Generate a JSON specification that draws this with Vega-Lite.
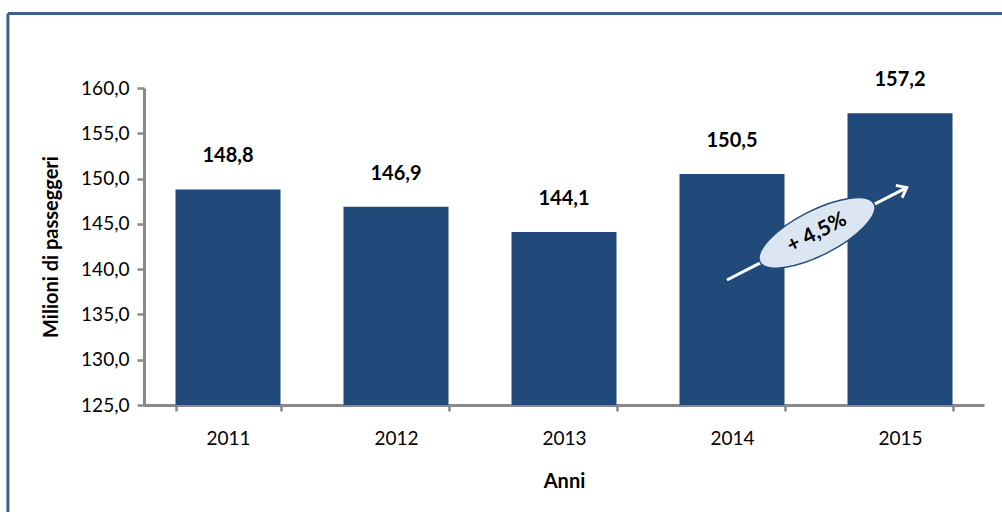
{
  "$schema": "https://vega.github.io/schema/vega-lite/v6.json",
  "width": 840,
  "height": 317,
  "autosize": {"type": "none"},
  "padding": {"left": 144, "top": 88, "right": 18, "bottom": 107},
  "background": "white",
  "config": {
    "view": {"stroke": null},
    "font": "Lato",
    "locale": {"number": {"decimal": ",", "thousands": ".", "grouping": [3], "currency": ["€", ""]}}
  },
  "data": {"values": [
    {"anno": "2011", "passeggeri": 148.8},
    {"anno": "2012", "passeggeri": 146.9},
    {"anno": "2013", "passeggeri": 144.1},
    {"anno": "2014", "passeggeri": 150.5},
    {"anno": "2015", "passeggeri": 157.2}
  ]},
  "resolve": {"scale": {"x": "independent"}},
  "layer": [
    {
      "encoding": {
        "x": {
          "field": "anno", "type": "ordinal",
          "scale": {"paddingInner": 0.375, "paddingOuter": 0.1875},
          "axis": {
            "title": "Anni", "titleFont": "Lato", "titleFontSize": 20, "titleFontWeight": "bold", "titleColor": "#000000", "titlePadding": 23,
            "labelAngle": 0, "labelFont": "Lato", "labelFontSize": 19, "labelColor": "#000000", "labelPadding": 18,
            "tickBand": "extent", "tickSize": 6, "tickWidth": 2.5, "tickColor": "#898989",
            "domainColor": "#898989", "domainWidth": 3, "grid": false
          }
        },
        "y": {
          "field": "passeggeri", "type": "quantitative",
          "scale": {"domain": [125, 160], "nice": false, "zero": false},
          "axis": {
            "title": "Milioni di passeggeri", "titleFont": "Lato", "titleFontSize": 20, "titleFontWeight": "bold", "titleColor": "#000000", "titlePadding": 19,
            "values": [125, 130, 135, 140, 145, 150, 155, 160],
            "labelExpr": "replace(format(datum.value, '.1f'), '.', ',')",
            "labelFont": "Lato", "labelFontSize": 19, "labelColor": "#000000", "labelPadding": 8,
            "tickSize": 7, "tickWidth": 2.5, "tickColor": "#898989",
            "domainColor": "#898989", "domainWidth": 3, "grid": false
          }
        }
      },
      "layer": [
        {
          "mark": {"type": "bar", "color": "#214A7B"},
          "encoding": {"y2": {"datum": 125}}
        },
        {
          "mark": {"type": "text", "baseline": "alphabetic", "dy": -27, "font": "Lato", "fontSize": 20, "fontWeight": "bold", "color": "#000000"},
          "encoding": {"text": {"field": "passeggeri", "type": "quantitative", "format": ".1f"}}
        }
      ]
    },
    {
      "data": {"values": [{}]},
      "layer": [
        {
          "mark": {"type": "rule", "color": "#3B5E8C", "strokeWidth": 3, "clip": false},
          "encoding": {
            "x": {"datum": 2009.69, "type": "quantitative", "scale": {"domain": [2010.5, 2015.5], "nice": false, "zero": false}, "axis": null},
            "y": {"datum": 168.23, "type": "quantitative"},
            "y2": {"datum": 110}
          }
        },
        {
          "mark": {"type": "rule", "color": "#3B5E8C", "strokeWidth": 3, "clip": false},
          "encoding": {
            "x": {"datum": 2009.69, "type": "quantitative", "scale": {"domain": [2010.5, 2015.5], "nice": false, "zero": false}, "axis": null},
            "x2": {"datum": 2016.0},
            "y": {"datum": 168.23, "type": "quantitative"}
          }
        },
        {
          "mark": {"type": "rule", "color": "#FFFFFF", "strokeWidth": 3},
          "encoding": {
            "x": {"datum": 2013.97, "type": "quantitative", "scale": {"domain": [2010.5, 2015.5], "nice": false, "zero": false}, "axis": null},
            "x2": {"datum": 2015.04},
            "y": {"datum": 138.8, "type": "quantitative"},
            "y2": {"datum": 149.0}
          }
        },
        {
          "mark": {"type": "point", "shape": "M-1,-0.8L0,0L-1,0.8", "filled": false, "stroke": "#FFFFFF", "strokeWidth": 3, "size": 300, "angle": -27, "opacity": 1},
          "encoding": {
            "x": {"datum": 2015.04, "type": "quantitative", "scale": {"domain": [2010.5, 2015.5], "nice": false, "zero": false}, "axis": null},
            "y": {"datum": 149.0, "type": "quantitative"}
          }
        },
        {
          "mark": {"type": "point", "shape": "M-1,0A1,0.35,0,1,1,1,0A1,0.35,0,1,1,-1,0Z", "filled": true, "fill": "#DCE6F2", "stroke": "#214A7B", "strokeWidth": 1.5, "size": 16384, "angle": -27, "opacity": 1},
          "encoding": {
            "x": {"datum": 2014.506, "type": "quantitative", "scale": {"domain": [2010.5, 2015.5], "nice": false, "zero": false}, "axis": null},
            "y": {"datum": 144.0, "type": "quantitative"}
          }
        },
        {
          "mark": {"type": "text", "text": "+ 4,5%", "angle": -27, "align": "center", "baseline": "middle", "font": "Lato", "fontSize": 21, "fontWeight": "bold", "color": "#000000"},
          "encoding": {
            "x": {"datum": 2014.506, "type": "quantitative", "scale": {"domain": [2010.5, 2015.5], "nice": false, "zero": false}, "axis": null},
            "y": {"datum": 144.0, "type": "quantitative"}
          }
        }
      ]
    }
  ]
}
